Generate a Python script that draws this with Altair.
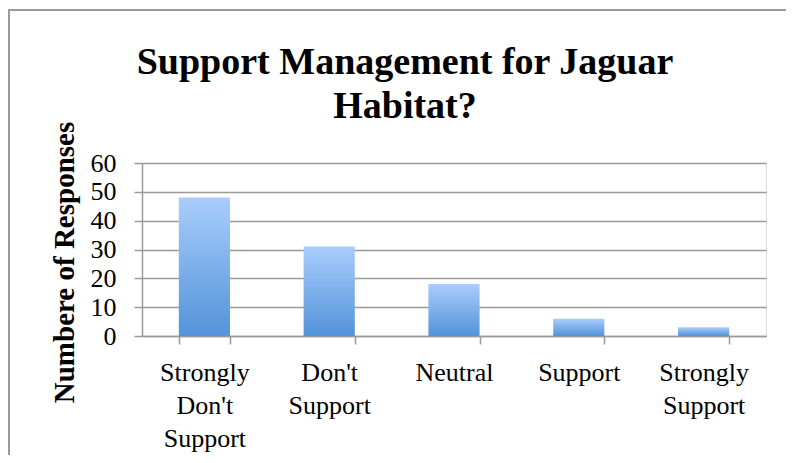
import altair as alt
import pandas as pd

categories = ["Strongly Don't Support", "Don't Support", "Neutral", "Support", "Strongly Support"]
responses = [48, 31, 18, 6, 3]
y_ticks = [0, 10, 20, 30, 40, 50, 60]

df = pd.DataFrame({"category": categories, "responses": responses})

FONT = "Liberation Serif"
GRAY = "#9a9a9a"

grad = alt.Gradient(
    gradient="linear",
    stops=[alt.GradientStop(color="#5393d9", offset=0),
           alt.GradientStop(color="#a9cdfc", offset=1)],
    x1=1, x2=1, y1=1, y2=0,
)

bars = alt.Chart(df).mark_bar(color=grad).encode(
    x=alt.X(
        "category:N",
        sort=categories,
        scale=alt.Scale(paddingInner=0.59, paddingOuter=0.295),
        axis=alt.Axis(
            title=None,
            labelAngle=0,
            labelExpr="split(datum.label, ' ')",
            labelFont=FONT,
            labelFontSize=26,
            labelLineHeight=33,
            labelColor="black",
            labelPadding=15,
            tickBand="extent",
            tickSize=8,
            tickColor=GRAY,
            tickWidth=1.5,
            domainColor=GRAY,
            domainWidth=1.5,
            grid=False,
        ),
    ),
    y=alt.Y(
        "responses:Q",
        scale=alt.Scale(domain=[0, 60], nice=False),
        axis=alt.Axis(
            title="Numbere of Responses",
            titleFont=FONT,
            titleFontSize=29,
            titleFontWeight="bold",
            titleColor="black",
            titleAngle=-90,
            titleAlign="center",
            titleBaseline="middle",
            titleX=-78,
            titleY=99,
            values=y_ticks,
            labelFont=FONT,
            labelFontSize=26,
            labelColor="black",
            labelPadding=18,
            tickSize=8,
            tickColor=GRAY,
            tickWidth=1.5,
            domainColor=GRAY,
            domainWidth=1.5,
            gridColor=GRAY,
            gridWidth=1.5,
        ),
    ),
)

frame_top = alt.Chart(df).mark_rule(color=GRAY, strokeWidth=1.5).encode(
    x=alt.value(-134), x2=alt.value(660), y=alt.value(-153)
)
frame_left = alt.Chart(df).mark_rule(color=GRAY, strokeWidth=1.5).encode(
    x=alt.value(-133), y=alt.value(-153), y2=alt.value(320)
)

chart = alt.layer(bars, frame_top, frame_left).properties(
    width=624,
    height=173,
    autosize=alt.AutoSizeParams(type="none"),
    padding={"left": 134, "top": 155, "right": 20, "bottom": 119},
    title=alt.TitleParams(
        text=["Support Management for Jaguar", "Habitat?"],
        font=FONT,
        fontSize=38,
        fontWeight="bold",
        color="black",
        lineHeight=44,
        anchor="middle",
        frame="group",
        dx=-49,
        offset=-117,
    ),
).configure_view(stroke=None).configure(background="white")

chart.save("out.html", embed_options={"renderer": "svg", "actions": False})
